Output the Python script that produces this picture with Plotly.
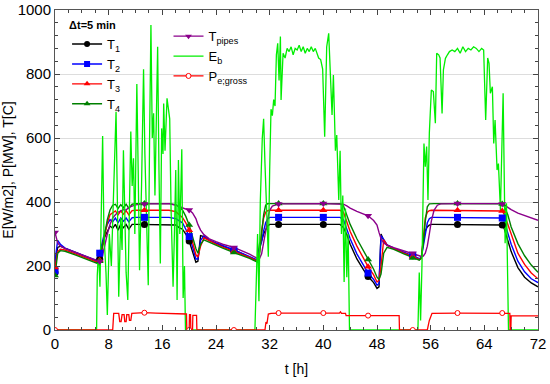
import plotly.graph_objects as go

# ---------------- data ----------------
t_T = [0, 0.15, 0.4, 0.8, 1.5, 3, 4.5, 6.0, 6.4, 6.67,
       7.0, 7.4, 7.8, 8.2, 8.6, 9.0, 9.4, 9.8, 10.2, 10.6,
       11.0, 11.5, 12.0, 13.33, 17, 18.0, 18.5, 19.0, 19.5, 20.0,
       20.5, 21.0, 21.3, 21.7, 22.2, 23, 24, 25, 26.67, 28,
       29, 30.2, 30.5, 30.8, 31.1, 31.4, 31.7, 32.0, 32.4, 33.0,
       33.33, 40, 42.5, 43.0, 43.5, 44, 45, 46, 46.67, 47.5,
       48.0, 48.3, 48.6, 49.0, 49.5, 50.5, 52, 53.33, 54.3, 54.6,
       54.9, 55.2, 55.5, 55.8, 56.1, 56.5, 57.0, 57.5, 60, 66.5,
       66.67, 67.0, 67.5, 68, 69, 70, 71, 72]

T_pipes = [305, 290, 272, 262, 255, 243, 231, 219, 215, 214,
           225, 265, 300, 330, 350, 360, 368, 372, 376, 375,
           383, 387, 391, 394, 395, 390, 385, 382, 378, 375,
           366, 348, 330, 312, 298, 285, 276, 268, 258, 246,
           237, 223, 224, 238, 268, 308, 348, 374, 387, 393,
           394, 395, 395, 393, 388, 381, 371, 363, 357, 342,
           328, 305, 285, 272, 265, 257, 248, 240, 232, 229,
           231, 240, 262, 300, 340, 374, 390, 394, 395, 395,
           394, 390, 383, 376, 365, 357, 350, 343]

T4 = [170, 200, 240, 248, 246, 235, 222, 210, 207, 215,
      250, 300, 345, 375, 390, 393, 380, 392, 382, 393,
      380, 393, 395, 395, 395, 392, 385, 375, 355, 328,
      290, 255, 240, 268, 282, 274, 265, 256, 242, 232,
      224, 212, 240, 300, 360, 390, 395, 395, 395, 395,
      395, 395, 395, 388, 360, 330, 285, 248, 220, 190,
      165, 158, 175, 240, 258, 252, 238, 225, 218, 225,
      270, 340, 385, 394, 395, 395, 395, 395, 395, 395,
      394, 385, 360, 322, 270, 232, 203, 180]

T3 = [195, 220, 245, 252, 250, 238, 226, 214, 211, 218,
      255, 300, 335, 360, 365, 372, 360, 372, 362, 373,
      360, 373, 374, 374, 374, 370, 362, 352, 335, 312,
      275, 235, 228, 262, 288, 278, 268, 259, 246, 235,
      227, 215, 245, 310, 350, 368, 373, 374, 374, 374,
      374, 374, 374, 368, 340, 308, 262, 222, 198, 172,
      150, 155, 200, 282, 265, 255, 240, 230, 220, 223,
      300, 350, 368, 373, 374, 374, 374, 374, 374, 374,
      372, 360, 330, 295, 240, 205, 178, 160]

T2 = [185, 240, 280, 268, 256, 243, 230, 218, 225, 240,
      270, 305, 330, 345, 338, 350, 335, 350, 340, 350,
      338, 351, 352, 352, 352, 348, 342, 335, 315, 292,
      260, 222, 222, 280, 294, 281, 272, 263, 250, 239,
      230, 218, 255, 275, 310, 335, 347, 352, 352, 352,
      352, 352, 352, 345, 315, 285, 238, 203, 178, 158,
      140, 145, 295, 283, 266, 256, 243, 233, 223, 225,
      265, 310, 335, 348, 352, 352, 352, 352, 352, 352,
      350, 338, 305, 268, 215, 182, 160, 148]

T1 = [180, 230, 258, 262, 255, 242, 229, 217, 214, 222,
      260, 290, 310, 325, 318, 330, 312, 330, 320, 330,
      315, 330, 330, 330, 330, 328, 320, 315, 300, 278,
      245, 212, 215, 295, 292, 280, 271, 262, 250, 238,
      229, 216, 270, 280, 300, 315, 325, 330, 330, 330,
      330, 330, 330, 320, 298, 268, 222, 188, 167, 148,
      130, 135, 300, 280, 265, 255, 242, 232, 222, 225,
      280, 310, 322, 328, 330, 330, 330, 330, 330, 330,
      328, 315, 280, 245, 195, 165, 147, 135]

marker_times = [0, 6.67, 13.33, 20, 26.67, 33.33, 40, 46.67, 53.33, 60, 66.67]

t_P = [0, 8.6, 8.75, 9.5, 9.65, 9.85, 10.0, 10.3, 10.4, 10.6,
       10.7, 11.0, 11.1, 11.3, 11.45, 13.33, 15, 17, 19, 19.6,
       19.65, 20.0, 20.05, 20.2, 20.25, 20.5, 20.55, 21.1, 21.15, 26.67,
       31.3, 31.45, 31.6, 31.8, 32.2, 33.33, 40, 42.4, 42.55, 42.7,
       43.3, 43.4, 46.67, 51.3, 51.35, 53.33, 55.5, 55.8, 56.2, 60,
       66.67, 67.8, 67.85, 67.95, 68.0, 72]
P_gross = [0, 0, 52, 52, 26, 26, 48, 48, 26, 26,
           48, 48, 30, 30, 52, 54, 53, 52, 50, 50,
           0, 0, 48, 48, 0, 0, 46, 46, 0, 0,
           0, 25, 20, 50, 52, 53, 53, 53, 57, 52,
           52, 45, 45, 45, 0, 0, 0, 30, 52, 53,
           53, 52, 0, 0, 44, 44]

t_E = [0, 6.2, 6.3, 6.5, 6.7, 7.0, 7.1, 7.3, 7.6, 7.8,
       8.1, 8.4, 8.7, 8.9, 9.1, 9.3, 9.5, 9.8, 10.0, 10.2,
       10.4, 10.6, 10.85, 11.1, 11.3, 11.5, 11.7, 11.9, 12.2, 12.4,
       12.6, 12.9, 13.2, 13.4, 13.7, 13.9, 14.1, 14.3, 14.5, 14.7,
       14.9, 15.1, 15.3, 15.5, 15.7, 15.9, 16.1, 16.2, 16.4, 16.7,
       16.9, 17.1, 17.3, 17.6, 17.8, 18.0, 18.2, 18.4, 18.6, 18.9,
       19.1, 19.3, 19.45,
       29.8, 30.0, 30.2, 30.4, 30.6, 30.9, 31.1, 31.3, 31.5, 31.8,
       32.0, 32.2, 32.4, 32.6, 32.8, 33.0, 33.2, 33.4, 33.6, 33.7,
       34.0, 34.3, 34.6, 34.9, 35.2, 35.5, 35.8, 36.1, 36.4, 36.7,
       37.0, 37.3, 37.6, 37.9, 38.2, 38.5, 38.8, 39.1, 39.3, 39.6,
       39.9, 40.2, 40.5, 40.8, 41.1, 41.3, 41.5, 41.8, 42.0, 42.3,
       42.5, 42.7, 42.9, 43.1, 43.3, 43.5, 43.7, 43.9,
       54.1, 54.3, 54.5, 54.7, 55.0, 55.2, 55.4, 55.6, 55.8, 56.1,
       56.4, 56.7, 56.9, 57.2, 57.4, 57.7, 57.9, 58.2, 58.5, 58.8,
       59.2, 59.6, 60.0, 60.4, 60.8, 61.2, 61.6, 62.0, 62.4, 62.8,
       63.2, 63.6, 63.9, 64.2, 64.5, 64.7, 64.9, 65.2, 65.4, 65.6,
       65.9, 66.1, 66.4, 66.8, 67.1, 67.3, 67.6, 72]
E_b = [0, 0, 170, 250, 135, 450, 606, 300, 180, 47,
       300, 200, 420, 560, 682, 400, 104, 350, 250, 562,
       300, 180, 94, 400, 620, 450, 537, 300, 769, 500,
       187, 450, 815, 550, 300, 140, 600, 953, 600, 677,
       420, 700, 885, 500, 208, 630, 550, 708, 560, 724,
       680, 660, 380, 135, 300, 500, 94, 531, 300, 565,
       100, 200, 0,
       0, 150, 300, 90, 400, 600, 660, 520, 380, 229,
       500, 690, 670, 720, 700, 860, 896, 780, 917, 719,
       865, 850, 880, 870, 885, 860, 880, 875, 890, 870,
       885, 865, 880, 870, 885, 870, 880, 865, 850, 845,
       815, 604, 885, 927, 780, 672, 797, 560, 609, 406,
       560, 300, 420, 150, 380, 165, 300, 0,
       0, 180, 30, 200, 583, 510, 573, 406, 615, 750,
       745, 646, 865, 860, 850, 677, 813, 849, 860, 870,
       875, 870, 880, 865, 885, 870, 880, 875, 885, 880,
       870, 880, 875, 656, 850, 833, 740, 760, 583, 656,
       500, 520, 375, 740, 271, 396, 0, 0]

x_ticks = [0, 8, 16, 24, 32, 40, 48, 56, 64, 72]
y_ticks = [0, 200, 400, 600, 800, 1000]

# ---------------- figure ----------------
fig = go.Figure()


def mk_idx(times):
    return [i for i, t in enumerate(times) if any(abs(t - m) < 1e-6 for m in marker_times)]


t_series = [
    ("T<sub>1</sub>", T1, "#000000", "circle", "legend"),
    ("T<sub>2</sub>", T2, "#0000ff", "square", "legend"),
    ("T<sub>3</sub>", T3, "#ff0000", "triangle-up", "legend"),
    ("T<sub>4</sub>", T4, "#008000", "triangle-up", "legend"),
    ("T<sub>pipes</sub>", T_pipes, "#8b008b", "triangle-down", "legend2"),
]

for name, vals, col, sym, leg in t_series:
    fig.add_trace(go.Scatter(x=t_T, y=vals, mode="lines",
                             line=dict(color=col, width=1.4),
                             showlegend=False, hoverinfo="skip"))

fig.add_trace(go.Scatter(x=t_E, y=E_b, mode="lines",
                         line=dict(color="#00ee00", width=1.3),
                         showlegend=False, hoverinfo="skip"))
fig.add_trace(go.Scatter(x=t_P, y=P_gross, mode="lines",
                         line=dict(color="#ff0000", width=1.3),
                         showlegend=False, hoverinfo="skip"))

idx_T = mk_idx(t_T)
for name, vals, col, sym, leg in t_series:
    fig.add_trace(go.Scatter(x=[t_T[i] for i in idx_T], y=[vals[i] for i in idx_T],
                             mode="markers",
                             marker=dict(symbol=sym, color=col, size=7),
                             showlegend=False, hoverinfo="skip"))
idx_P = mk_idx(t_P)
fig.add_trace(go.Scatter(x=[t_P[i] for i in idx_P], y=[P_gross[i] for i in idx_P],
                         mode="markers",
                         marker=dict(symbol="circle", color="white", size=5,
                                     line=dict(color="#ff0000", width=1)),
                         showlegend=False, hoverinfo="skip"))

# legend entries
for name, vals, col, sym, leg in t_series:
    fig.add_trace(go.Scatter(x=[None], y=[None], mode="lines+markers", name=name,
                             line=dict(color=col, width=1.4),
                             marker=dict(symbol=sym, color=col, size=6),
                             legend=leg))
fig.add_trace(go.Scatter(x=[None], y=[None], mode="lines", name="E<sub>b</sub>",
                         line=dict(color="#00ee00", width=1.3), legend="legend2"))
fig.add_trace(go.Scatter(x=[None], y=[None], mode="lines+markers", name="P<sub>e;gross</sub>",
                         line=dict(color="#ff0000", width=1.3),
                         marker=dict(symbol="circle", color="white", size=5,
                                     line=dict(color="#ff0000", width=1)),
                         legend="legend2"))

axis_font = dict(family="Liberation Sans, Arial, sans-serif", size=15, color="black")

fig.update_layout(
    width=550, height=384,
    margin=dict(l=55, r=12, t=10, b=54),
    paper_bgcolor="white", plot_bgcolor="white",
    font=dict(family="Liberation Sans, Arial, sans-serif", color="black"),
    xaxis=dict(range=[0, 72], tickvals=x_ticks, ticks="inside", ticklen=5,
               tickfont=axis_font, showgrid=False, zeroline=False, automargin=False,
               showline=True, linecolor="#555", linewidth=1, mirror="ticks",
               minor=dict(dtick=2, ticks="inside", ticklen=3, showgrid=False),
               title=dict(text="t [h]", font=dict(size=14), standoff=13)),
    yaxis=dict(range=[0, 1000], tickvals=y_ticks, ticks="inside", ticklen=5,
               tickfont=axis_font, showgrid=True, gridcolor="#dddddd", gridwidth=1,
               zeroline=False, showline=True, linecolor="#555", linewidth=1, mirror="ticks",
               automargin=False,
               minor=dict(dtick=40, ticks="inside", ticklen=3, showgrid=False),
               title=dict(text="E[W/m2], P[MW], T[C]", font=dict(size=14), standoff=5)),
    legend=dict(x=0.025, y=0.985, xanchor="left", yanchor="top",
                bgcolor="rgba(0,0,0,0)", font=dict(size=13), itemwidth=30,
                tracegroupgap=0,
                title=dict(text="<b>Δt=5 min</b>", font=dict(size=11))),
    legend2=dict(x=0.235, y=0.965, xanchor="left", yanchor="top",
                 bgcolor="rgba(0,0,0,0)", font=dict(size=13), itemwidth=30,
                 tracegroupgap=0),
)

fig.write_html("out.html", config={"displayModeBar": False},
               post_script="document.body.style.margin='0';document.body.style.overflow='hidden';")
